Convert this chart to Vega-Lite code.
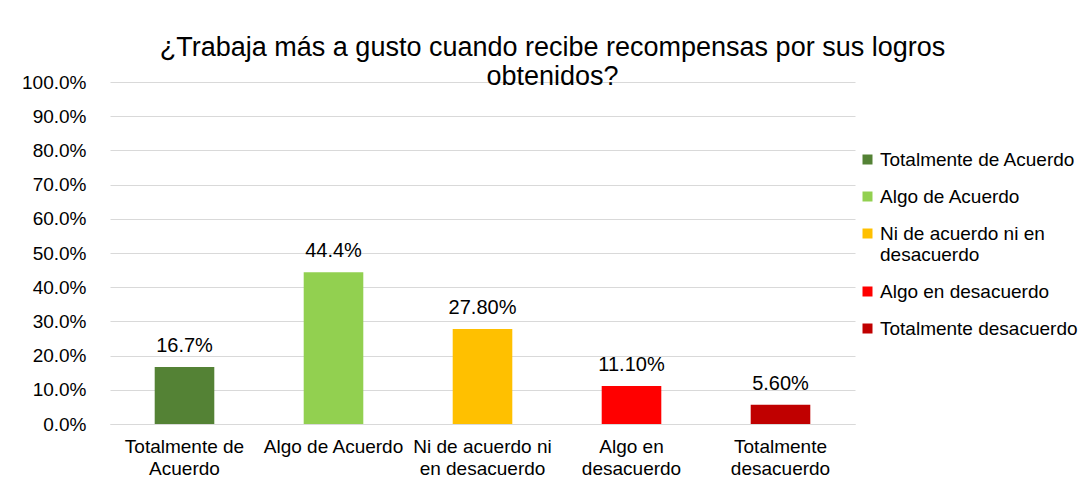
{
  "$schema": "https://vega.github.io/schema/vega-lite/v6.json",
  "autosize": "none",
  "width": 745,
  "height": 342,
  "padding": {"left": 110, "top": 82, "right": 232, "bottom": 78},
  "background": "white",
  "config": {
    "font": "Liberation Sans",
    "view": {"stroke": null}
  },
  "title": {
    "text": ["¿Trabaja más a gusto cuando recibe recompensas por sus logros", "obtenidos?"],
    "font": "Liberation Sans",
    "fontSize": 27,
    "fontWeight": "normal",
    "color": "#000000",
    "anchor": "middle",
    "frame": "group",
    "dx": 70,
    "offset": -18,
    "lineHeight": 29
  },
  "data": {
    "values": [
      {"categoria": "Totalmente de Acuerdo", "porcentaje": 0.167, "etiqueta": "16.7%"},
      {"categoria": "Algo de Acuerdo", "porcentaje": 0.444, "etiqueta": "44.4%"},
      {"categoria": "Ni de acuerdo ni en desacuerdo", "porcentaje": 0.278, "etiqueta": "27.80%"},
      {"categoria": "Algo en desacuerdo", "porcentaje": 0.111, "etiqueta": "11.10%"},
      {"categoria": "Totalmente desacuerdo", "porcentaje": 0.056, "etiqueta": "5.60%"}
    ]
  },
  "encoding": {
    "x": {
      "field": "categoria",
      "type": "nominal",
      "sort": null,
      "scale": {"paddingInner": 0.6, "paddingOuter": 0.3},
      "axis": {
        "title": null,
        "labelAngle": 0,
        "labelFont": "Liberation Sans",
        "labelFontSize": 19,
        "labelColor": "#000000",
        "labelPadding": 13,
        "labelLineHeight": 22,
        "labelLimit": 300,
        "ticks": false,
        "domainColor": "#D9D9D9",
        "domainWidth": 1,
        "labelExpr": "datum.value == 'Totalmente de Acuerdo' ? ['Totalmente de', 'Acuerdo'] : datum.value == 'Ni de acuerdo ni en desacuerdo' ? ['Ni de acuerdo ni', 'en desacuerdo'] : datum.value == 'Algo en desacuerdo' ? ['Algo en', 'desacuerdo'] : datum.value == 'Totalmente desacuerdo' ? ['Totalmente', 'desacuerdo'] : datum.value"
      }
    },
    "y": {
      "field": "porcentaje",
      "type": "quantitative",
      "scale": {"domain": [0, 1], "nice": false},
      "axis": {
        "title": null,
        "format": ".1%",
        "values": [0, 0.1, 0.2, 0.3, 0.4, 0.5, 0.6, 0.7, 0.8, 0.9, 1],
        "labelOverlap": false,
        "labelFont": "Liberation Sans",
        "labelFontSize": 19,
        "labelColor": "#000000",
        "labelPadding": 24,
        "ticks": false,
        "domain": false,
        "gridColor": "#D9D9D9",
        "gridWidth": 1
      }
    }
  },
  "layer": [
    {
      "mark": {"type": "bar"},
      "encoding": {
        "color": {
          "field": "categoria",
          "type": "nominal",
          "sort": null,
          "scale": {
            "domain": ["Totalmente de Acuerdo", "Algo de Acuerdo", "Ni de acuerdo ni en desacuerdo", "Algo en desacuerdo", "Totalmente desacuerdo"],
            "range": ["#548235", "#92D050", "#FFC000", "#FF0000", "#C00000"]
          },
          "legend": {
            "title": null,
            "orient": "none",
            "legendX": 748,
            "legendY": 68,
            "symbolType": "square",
            "symbolSize": 100,
            "symbolStrokeWidth": 0,
            "labelFont": "Liberation Sans",
            "labelFontSize": 19,
            "labelLineHeight": 21,
            "labelColor": "#000000",
            "labelOffset": 3,
            "labelLimit": 300,
            "rowPadding": 17,
            "labelExpr": "datum.value == 'Ni de acuerdo ni en desacuerdo' ? ['Ni de acuerdo ni en', 'desacuerdo'] : datum.value"
          }
        }
      }
    },
    {
      "mark": {"type": "text", "baseline": "alphabetic", "dy": -15, "font": "Liberation Sans", "fontSize": 20, "color": "#000000"},
      "encoding": {"text": {"field": "etiqueta"}}
    }
  ]
}
